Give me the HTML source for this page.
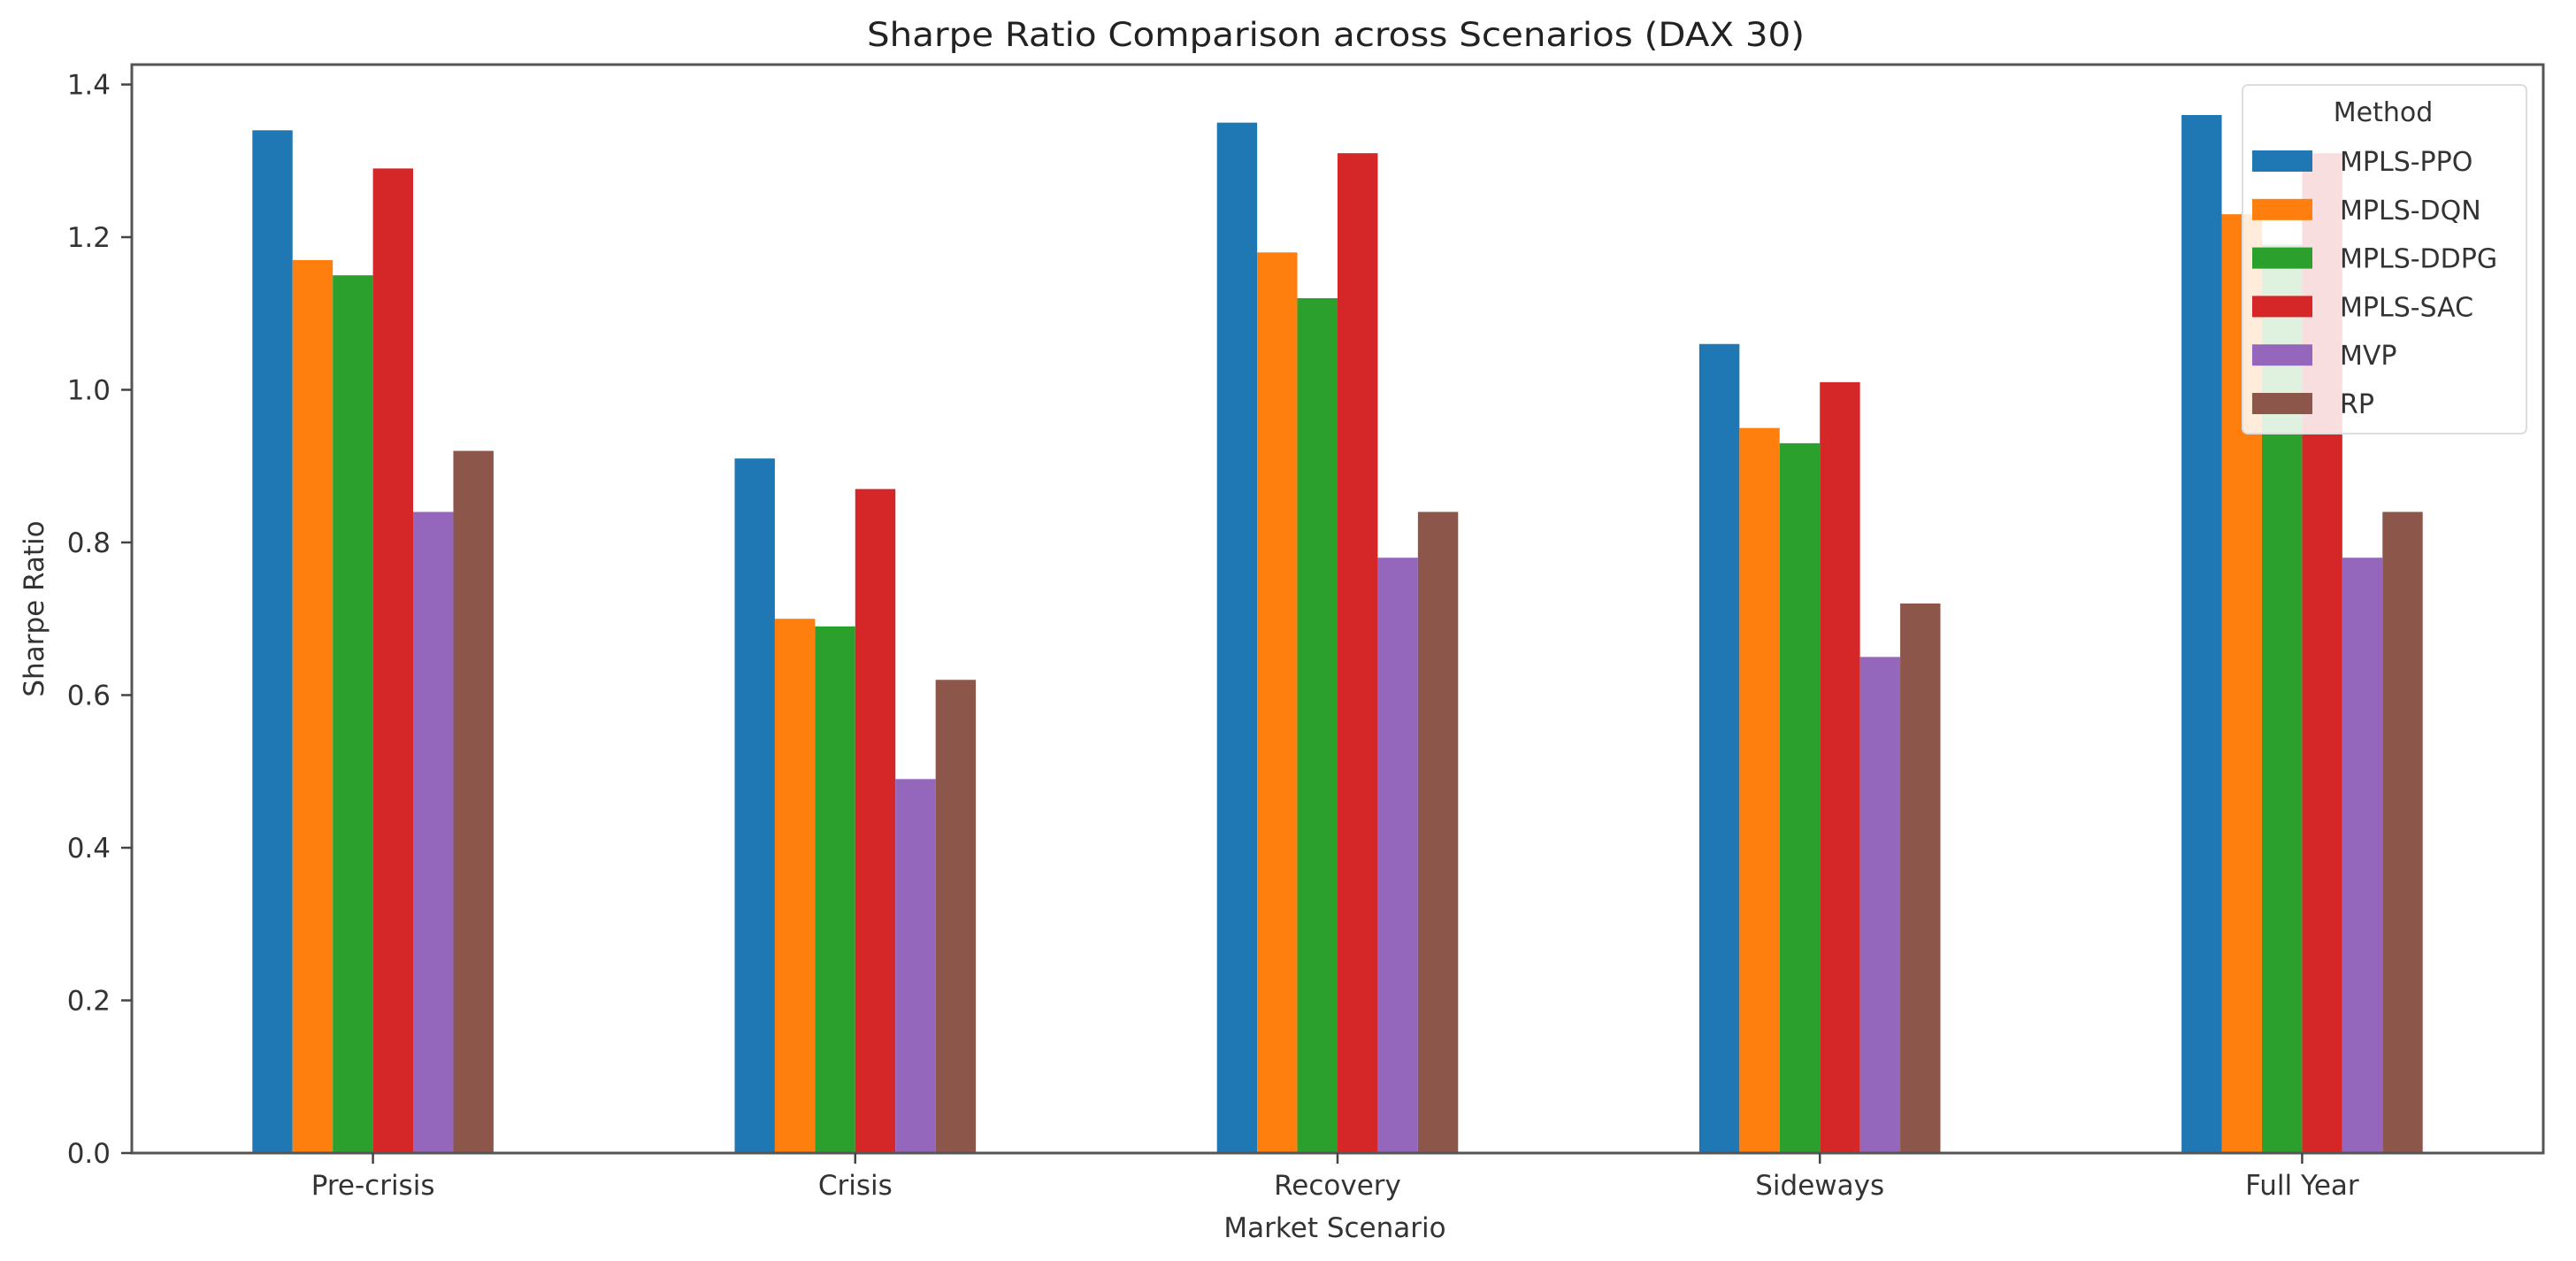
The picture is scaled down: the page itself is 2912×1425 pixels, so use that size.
<!DOCTYPE html>
<html><head><meta charset="utf-8"><style>
html,body{margin:0;padding:0;background:#fff;}
svg{display:block;font-family:"DejaVu Sans","Liberation Sans",sans-serif;}
</style></head><body>
<svg id="chart" width="2912" height="1425" viewBox="0 0 2912 1425" xmlns="http://www.w3.org/2000/svg">
<rect width="2912" height="1425" fill="#fff"/>
<g id="bars"></g>
<g id="axes"></g>
<g id="legend"></g>
</svg>
<script>
const categories = ["Pre-crisis","Crisis","Recovery","Sideways","Full Year"];
const seriesNames = ["MPLS-PPO","MPLS-DQN","MPLS-DDPG","MPLS-SAC","MVP","RP"];
const ppo  = [1.34,0.91,1.35,1.06,1.36];
const dqn  = [1.17,0.70,1.18,0.95,1.23];
const ddpg = [1.15,0.69,1.12,0.93,1.19];
const sac  = [1.29,0.87,1.31,1.01,1.31];
const mvp  = [0.84,0.49,0.78,0.65,0.78];
const rp   = [0.92,0.62,0.84,0.72,0.84];
const yTicks = [0.0,0.2,0.4,0.6,0.8,1.0,1.2,1.4];
const seriesValues = [ppo,dqn,ddpg,sac,mvp,rp];
const colors = ["#1f77b4","#ff7f0e","#2ca02c","#d62728","#9467bd","#8c564b"];

const NS="http://www.w3.org/2000/svg";
const L=149,R=2875,T=73,B=1303;
const yMax=(B-T)/862.5;
const xScale=v=>L+(v+0.5)/categories.length*(R-L);
const yScale=v=>B-v/yMax*(B-T);
function mk(tag,attrs,parent,text){const e=document.createElementNS(NS,tag);for(const k in attrs)e.setAttribute(k,attrs[k]);if(text!==undefined)e.textContent=text;parent.appendChild(e);return e;}

const gb=document.getElementById('bars');
const nS=seriesValues.length, bw=0.5/nS;
seriesValues.forEach((vals,s)=>{
  vals.forEach((v,i)=>{
    const x0=xScale(i-0.25+s*bw), x1=xScale(i-0.25+(s+1)*bw);
    const r=mk('rect',{x:x0,y:yScale(v),width:x1-x0,height:yScale(0)-yScale(v),fill:colors[s]},gb);
    
    
  });
});

const ga=document.getElementById('axes');
const fr=mk('rect',{x:L,y:T,width:R-L,height:B-T,fill:'none',stroke:'#555',"stroke-width":3},ga);


yTicks.forEach(t=>{
  const y=yScale(t);
  const tk=mk('line',{x1:L-12,x2:L,y1:y,y2:y,stroke:'#444',"stroke-width":2.5},ga);
  
  
  const lb=mk('text',{x:L-24,y:y+11,"text-anchor":"end","font-size":31,fill:'#333'},ga,t.toFixed(1));
  
  
});
categories.forEach((c,i)=>{
  const x=xScale(i);
  const tk=mk('line',{x1:x,x2:x,y1:B,y2:B+12,stroke:'#444',"stroke-width":2.5},ga);
  
  
  const lb=mk('text',{x:x,y:1350,"text-anchor":"middle","font-size":31,fill:'#333'},ga,c);
  
  
});
const ttl=mk('text',{x:1510,y:52,"text-anchor":"middle","font-size":37,fill:'#222',textLength:1060,lengthAdjust:"spacingAndGlyphs"},ga,"Sharpe Ratio Comparison across Scenarios (DAX 30)");


const xl=mk('text',{x:1509,y:1398,"text-anchor":"middle","font-size":31,fill:'#333'},ga,"Market Scenario");


const yl=mk('text',{x:0,y:0,"text-anchor":"middle","font-size":31,fill:'#333',transform:"translate(49,688) rotate(-90)"},ga,"Sharpe Ratio");



const gl=document.getElementById('legend');
const box=mk('rect',{x:2535,y:96,width:321,height:394,rx:6,fill:'#fff',"fill-opacity":0.85,stroke:'#ddd',"stroke-width":2},gl);


const lt=mk('text',{x:2694,y:137,"text-anchor":"middle","font-size":30,fill:'#333'},gl,"Method");


seriesNames.forEach((n,s)=>{
  const y=182+s*54.8;
  const g=mk('g',{},gl);
  
  
  mk('rect',{x:2546,y:y-12,width:68,height:24,fill:colors[s]},g);
  mk('text',{x:2645,y:y+11,"font-size":30,fill:'#333'},g,n);
});
</script>
</body></html>
